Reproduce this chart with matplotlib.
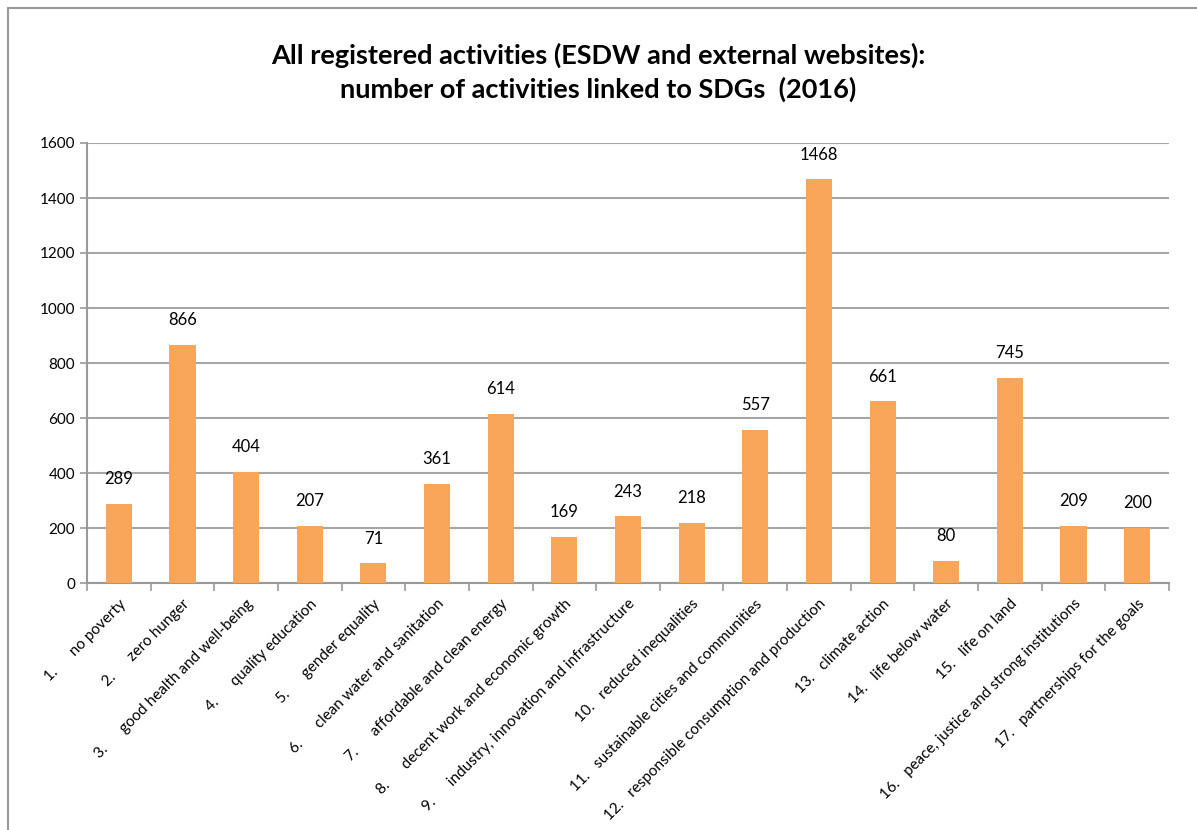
import matplotlib.pyplot as plt
from matplotlib.patches import Rectangle

plt.rcParams['font.family'] = ['Lato', 'DejaVu Sans']

# SDG goals and the number of linked activities
goals = ['1.      no poverty', '2.      zero hunger', '3.      good health and well-being',
         '4.      quality education', '5.      gender equality',
         '6.      clean water and sanitation', '7.      affordable and clean energy',
         '8.      decent work and economic growth', '9.      industry, innovation and infrastructure',
         '10.   reduced inequalities', '11.   sustainable cities and communities',
         '12.   responsible consumption and production', '13.   climate action',
         '14.   life below water', '15.   life on land',
         '16.   peace, justice and strong institutions', '17.   partnerships for the goals']
activities = [289, 866, 404, 207, 71, 361, 614, 169, 243, 218, 557, 1468, 661, 80, 745, 209, 200]
y_ticks = [0, 200, 400, 600, 800, 1000, 1200, 1400, 1600]

fig = plt.figure(figsize=(11.97, 8.30), dpi=100)
ax = fig.add_axes([87 / 1197, 1 - 583 / 830, (1169 - 87) / 1197, (583 - 143) / 830])

# frame around the chart
fig.patches.append(Rectangle((8 / 1197, -0.1), 1.2, 1.1 - 8 / 830, transform=fig.transFigure,
                             fill=False, edgecolor='#999999', linewidth=1.5))

x = range(len(goals))
ax.bar(x, activities, width=0.41, color='#F9A65A', zorder=3)
for i, v in enumerate(activities):
    ax.annotate(str(v), (i, v), xytext=(0, 12), textcoords='offset points',
                ha='center', va='bottom', fontsize=12)

ax.set_xlim(-0.5, len(goals) - 0.5)
ax.set_ylim(0, 1600)
ax.set_yticks(y_ticks)
ax.tick_params(axis='y', labelsize=11, color='#999999', length=5, width=1.2)
ax.yaxis.grid(True, color='#A6A6A6', linewidth=1.5, zorder=0)

ax.set_xticks([i + 0.5 for i in range(-1, len(goals))], minor=False)
ax.set_xticklabels([])
ax.set_xticks(list(x), minor=True)
ax.set_xticklabels(goals, minor=True, rotation=45, ha='right', rotation_mode='anchor', fontsize=11)
ax.tick_params(axis='x', which='major', color='#999999', length=6, width=1.2)
ax.tick_params(axis='x', which='minor', length=0, pad=10)

for side in ['top', 'right']:
    ax.spines[side].set_visible(False)
for side in ['left', 'bottom']:
    ax.spines[side].set_color('#999999')
    ax.spines[side].set_linewidth(1.5)

fig.text(0.5, 1 - 72 / 830, 'All registered activities (ESDW and external websites):\nnumber of activities linked to SDGs  (2016)',
         ha='center', va='center', fontsize=19.5, fontweight='bold', linespacing=1.4)

plt.savefig('out.png', dpi=100)
